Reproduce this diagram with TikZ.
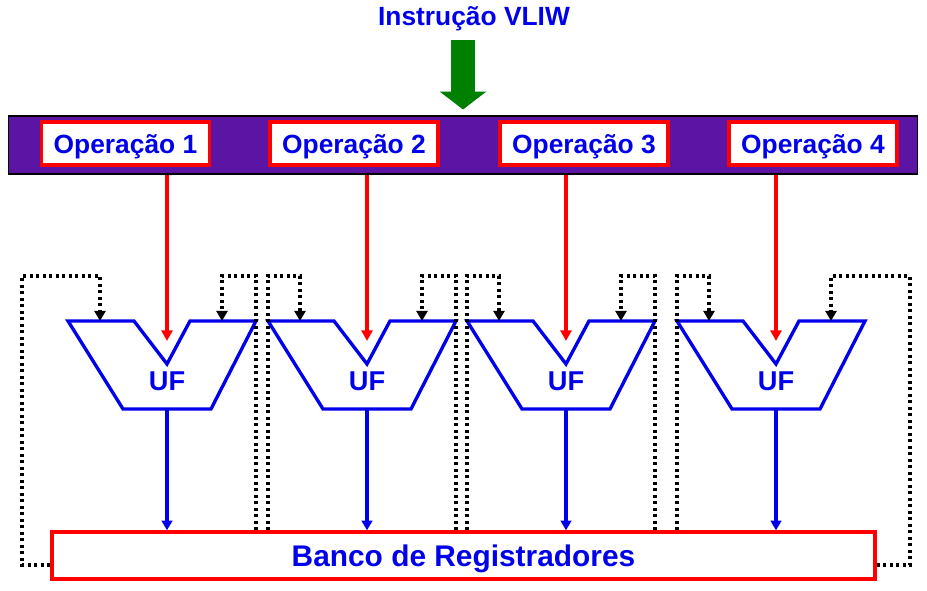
\documentclass[tikz,border=0pt]{standalone}
\usepackage{fontspec}
\setmainfont{Liberation Sans}
\usetikzlibrary{arrows.meta, positioning, calc}
\definecolor{vliwblue}{RGB}{0,0,235}
\definecolor{vliwred}{RGB}{255,0,0}
\definecolor{vliwgreen}{RGB}{0,128,0}
\definecolor{barpurple}{RGB}{92,20,164}

\begin{document}
\begin{tikzpicture}[x=0.02cm, y=-0.02cm]

        % Setup the styles
        \tikzset{title style/.style={text=vliwblue, inner sep=0pt,
                                     font=\fontsize{15}{18}\selectfont\bfseries},
                 bar style/.style={draw=black, line width=0.6pt, fill=barpurple,
                                   minimum width=18.2cm, minimum height=1.16cm,
                                   inner sep=0pt},
                 op style/.style={draw=vliwred, line width=1.9pt, fill=white,
                                  minimum width=3.36cm, minimum height=0.86cm,
                                  inner sep=0pt, text=vliwblue,
                                  text height=11.5pt, text depth=0pt,
                                  font=\fontsize{15}{18}\selectfont\bfseries},
                 bank style/.style={draw=vliwred, line width=1.9pt, fill=white,
                                    minimum width=16.46cm, minimum height=0.94cm,
                                    inner sep=0pt, text=vliwblue,
                                    text height=13pt, text depth=0pt,
                                    font=\fontsize{17}{20}\selectfont\bfseries},
                 uf style/.style={draw=vliwblue, line width=1.9pt, line join=miter},
                 uf label/.style={text=vliwblue, inner sep=0pt,
                                  font=\fontsize{15.5}{18}\selectfont\bfseries},
                 vliw arrow/.style={draw=vliwgreen, line width=13.6pt,
                                    -{Triangle[length=10.2pt, width=26pt]}},
                 opflow/.style={draw=vliwred, line width=1.8pt,
                                -{Triangle[length=6pt, width=6.2pt]}},
                 result/.style={draw=vliwblue, line width=1.8pt,
                                -{Triangle[length=5.5pt, width=6pt]}},
                 feedback/.style={draw=black, line width=2.1pt,
                                  dash pattern=on 1.8pt off 1.9pt,
                                  -{Triangle[length=5.8pt, width=6.3pt]}}}

        \useasboundingbox (0,0) rectangle (927,591);

        % Draw the instruction word
        \node[title style] (title) at (474,19) {Instrução VLIW};
        \node[bar style] (bar) at (463,145) {};
        \node[op style] (op1) at (125.5,143.5) {Operação 1};
        \node[op style] (op2) at (354,143.5)   {Operação 2};
        \node[op style] (op3) at (584,143.5)   {Operação 3};
        \node[op style] (op4) at (813,143.5)   {Operação 4};

        \draw[vliw arrow] ([yshift=43.1pt]bar.north) -- ([yshift=3.4pt]bar.north);

        % Draw the register bank
        \node[bank style] (bank) at (463.5,555.5) {Banco de Registradores};
        \coordinate (looptop) at (0,276);

        % Draw the functional units
        \foreach \i/\cx in {1/167, 2/367, 3/566, 4/776} {
            \draw[uf style] (\cx-99,321) -- (\cx-33,321) -- (\cx,364) -- (\cx+23,321)
                 -- (\cx+89,321) -- (\cx+44,409) -- (\cx-44,409) -- cycle;
            \node[uf label] (uf\i) at (\cx,381) {UF};
            \coordinate (tl\i) at (\cx-99,321);
            \coordinate (tr\i) at (\cx+89,321);
            \coordinate (l\i)  at (\cx-67,321);
            \coordinate (r\i)  at (\cx+55,321);
            \coordinate (in\i) at (\cx,341);
            \coordinate (b\i)  at (\cx,409);

            \draw[opflow] (bar.south -| in\i) -- (in\i);
            \draw[result] (b\i) -- (b\i |- bank.north);
        }

        % Connect the results back to the inputs
        \draw[feedback] ([yshift=-5.4pt]bank.west) -| (22,276) -| (l1);
        \draw[feedback] ([yshift=-5.4pt]bank.east) -| (910,276) -| (r4);
        \foreach \i in {2,3,4}
            \draw[feedback] (tl\i |- bank.north) -- (tl\i |- looptop) -| (l\i);
        \foreach \i in {1,2,3}
            \draw[feedback] (tr\i |- bank.north) -- (tr\i |- looptop) -| (r\i);

\end{tikzpicture}
\end{document}
